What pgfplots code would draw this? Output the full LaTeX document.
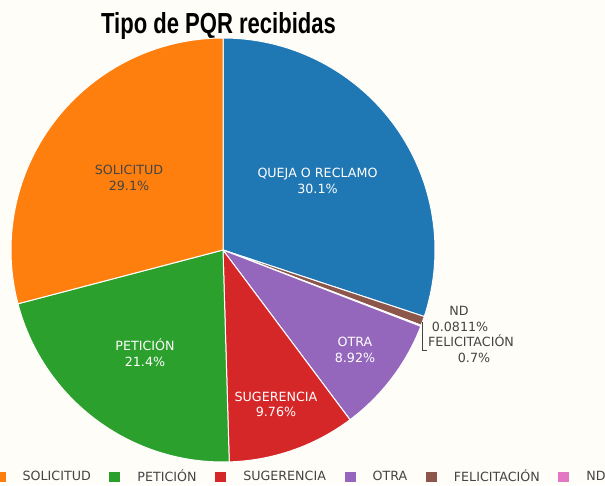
\documentclass[border=0pt]{standalone}
\usepackage{pgfplots}
\pgfplotsset{compat=1.18}
\usepackage{fontspec}
\setmainfont{DejaVu Sans}
\newfontfamily\titlefont{Liberation Sans}[FakeStretch=0.76]

\definecolor{bg}{HTML}{FFFDF7}
\definecolor{txt}{HTML}{444444}
\definecolor{cQ}{HTML}{1F77B4}
\definecolor{cL}{HTML}{FF7F0E}
\definecolor{cP}{HTML}{2CA02C}
\definecolor{cS}{HTML}{D62728}
\definecolor{cO}{HTML}{9467BD}
\definecolor{cF}{HTML}{8C564B}
\definecolor{cN}{HTML}{E377C2}

% porcentajes de cada tipo (sentido horario desde las 12)
\def\vQ{30.1}   % QUEJA O RECLAMO
\def\vF{0.7}    % FELICITACION
\def\vN{0.0811} % ND
\def\vO{8.92}   % OTRA
\def\vS{9.76}   % SUGERENCIA
\def\vP{21.4}   % PETICION
\def\vL{29.1}   % SOLICITUD
\pgfmathsetmacro\tot{\vQ+\vF+\vN+\vO+\vS+\vP+\vL}
\pgfmathsetmacro\aA{90}
\pgfmathsetmacro\aB{\aA-360*\vQ/\tot}
\pgfmathsetmacro\aC{\aB-360*\vF/\tot}
\pgfmathsetmacro\aD{\aC-360*\vN/\tot}
\pgfmathsetmacro\aE{\aD-360*\vO/\tot}
\pgfmathsetmacro\aF{\aE-360*\vS/\tot}
\pgfmathsetmacro\aG{\aF-360*\vP/\tot}
\pgfmathsetmacro\aH{\aG-360*\vL/\tot}

\newcommand\slice[3]{%
  \fill[#3, draw=white, line width=0.75pt, line join=round]
    (axis cs:0,0) -- (axis cs:{212*cos(#1)},{212*sin(#1)})
    arc[start angle=#1, end angle=#2, radius=212] -- cycle;}

\pgfplotsset{
  legend image code/.code={\fill[#1, draw=none] (0pt,-3.9pt) rectangle (8.25pt,3.9pt);},
}

\begin{document}
\begin{tikzpicture}[x=0.75pt, y=0.75pt]
\path[use as bounding box] (0,0) rectangle (605,485);
\clip (0,0) rectangle (605,485);
\fill[bg] (0,0) rectangle (605,485);

\node[anchor=base, font=\titlefont\bfseries\fontsize{21.75}{24}\selectfont]
  at (218.5,451) {Tipo de PQR recibidas};

\begin{axis}[
    at={(223,235)}, anchor=center,
    x=0.75pt, y=0.75pt,
    xmin=-212, xmax=212, ymin=-212, ymax=212,
    hide axis, clip=false,
    legend columns=-1,
    legend style={draw=none, fill=none, inner sep=0pt, outer sep=0pt,
      at={(axis cs:-395,-227)}, anchor=west,
      font=\fontsize{9.5}{11}\selectfont, text=txt,
      nodes={inner sep=0pt},
      /tikz/every odd column/.append style={column sep=12.75pt},
      /tikz/every even column/.append style={column sep=14pt}},
  ]
  \slice{\aA}{\aB}{cQ}
  \slice{\aB}{\aC}{cF}
  \slice{\aC}{\aD}{cN}
  \slice{\aD}{\aE}{cO}
  \slice{\aE}{\aF}{cS}
  \slice{\aF}{\aG}{cP}
  \slice{\aG}{\aH}{cL}

  \begin{scope}[font=\fontsize{9.5}{11}\selectfont]
  \node[anchor=base, text=white] at (axis cs:94.5,72) {QUEJA O RECLAMO};
  \node[anchor=base, text=white] at (axis cs:94.5,56.3) {30.1\%};
  \node[anchor=base, text=txt] at (axis cs:-94,75) {SOLICITUD};
  \node[anchor=base, text=txt] at (axis cs:-94,59.3) {29.1\%};
  \node[anchor=base, text=white] at (axis cs:-78,-100.7) {PETICIÓN};
  \node[anchor=base, text=white] at (axis cs:-78,-116.7) {21.4\%};
  \node[anchor=base, text=white] at (axis cs:53,-151) {SUGERENCIA};
  \node[anchor=base, text=white] at (axis cs:53,-166.7) {9.76\%};
  \node[anchor=base, text=white] at (axis cs:132,-96.7) {OTRA};
  \node[anchor=base, text=white] at (axis cs:132,-112.3) {8.92\%};
  \node[anchor=base, text=txt] at (axis cs:236,-65) {ND};
  \node[anchor=base, text=txt] at (axis cs:237,-81.7) {0.0811\%};
  \node[anchor=base, text=txt] at (axis cs:248,-96.7) {FELICITACIÓN};
  \node[anchor=base, text=txt] at (axis cs:251,-112.7) {0.7\%};
  \end{scope}
  \draw[txt, line width=0.75pt] (axis cs:199.7,-71.7) -- (axis cs:199.7,-100.7)
    -- (axis cs:203.7,-100.7);

  \addlegendimage{fill=cQ}\addlegendentry{QUEJA O RECLAMO}
  \addlegendimage{fill=cL}\addlegendentry{SOLICITUD}
  \addlegendimage{fill=cP}\addlegendentry{PETICIÓN}
  \addlegendimage{fill=cS}\addlegendentry{SUGERENCIA}
  \addlegendimage{fill=cO}\addlegendentry{OTRA}
  \addlegendimage{fill=cF}\addlegendentry{FELICITACIÓN}
  \addlegendimage{fill=cN}\addlegendentry{ND}
\end{axis}
\end{tikzpicture}
\end{document}
